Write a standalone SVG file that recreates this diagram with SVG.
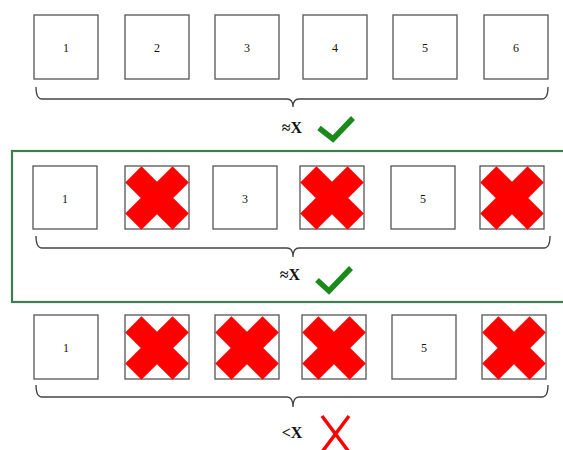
<svg xmlns="http://www.w3.org/2000/svg" width="563" height="450" viewBox="0 0 563 450">
<defs>
<style>
.box{fill:#fff;stroke:#555;stroke-width:1.3}
.num{font-family:"Liberation Serif",serif;font-size:12px;fill:#111;text-anchor:middle}
.lbl{font-family:"Liberation Serif",serif;font-size:16px;font-weight:bold;fill:#111;text-anchor:middle}
.brace{fill:none;stroke:#444;stroke-width:1.3}
.chk{fill:none;stroke:#1a8a1a;stroke-width:5.5;stroke-linecap:butt;stroke-linejoin:miter}
.frame{fill:none;stroke:#3f7f4f;stroke-width:2.2}
.cross{fill:#ff0000}
</style>
<g id="bigx">
<rect x="-33.5" y="-11.5" width="67" height="23" transform="rotate(45)"/>
<rect x="-33.5" y="-11.5" width="67" height="23" transform="rotate(-45)"/>
</g>
</defs>
<rect width="563" height="450" fill="#fff"/>
<g id="frame"><rect class="frame" x="12" y="151" width="560" height="151"/></g>
<g id="row1">
<g id="r1n1"><rect class="box" x="34" y="15" width="64" height="64"/><text class="num" x="66" y="52">1</text></g>
<g id="r1n2"><rect class="box" x="125" y="15" width="64" height="64"/><text class="num" x="157" y="52">2</text></g>
<g id="r1n3"><rect class="box" x="215" y="15" width="64" height="64"/><text class="num" x="247" y="52">3</text></g>
<g id="r1n4"><rect class="box" x="303" y="15" width="64" height="64"/><text class="num" x="335" y="52">4</text></g>
<g id="r1n5"><rect class="box" x="393" y="15" width="64" height="64"/><text class="num" x="425" y="52">5</text></g>
<g id="r1n6"><rect class="box" x="484" y="15" width="64" height="64"/><text class="num" x="516" y="52">6</text></g>
</g>
<g id="row2">
<g id="r2n1"><rect class="box" x="33" y="166" width="64" height="63"/><text class="num" x="65" y="203">1</text></g>
<g id="r2n2"><rect class="box" x="125" y="166" width="64" height="63"/><use href="#bigx" class="cross" x="157" y="198"/></g>
<g id="r2n3"><rect class="box" x="213" y="166" width="64" height="63"/><text class="num" x="245" y="203">3</text></g>
<g id="r2n4"><rect class="box" x="300" y="166" width="64" height="63"/><use href="#bigx" class="cross" x="332" y="198"/></g>
<g id="r2n5"><rect class="box" x="391" y="166" width="64" height="63"/><text class="num" x="423" y="203">5</text></g>
<g id="r2n6"><rect class="box" x="480" y="166" width="64" height="63"/><use href="#bigx" class="cross" x="512" y="198"/></g>
</g>
<g id="row3">
<g id="r3n1"><rect class="box" x="34" y="315" width="64" height="64"/><text class="num" x="66" y="352">1</text></g>
<g id="r3n2"><rect class="box" x="125" y="315" width="64" height="64"/><use href="#bigx" class="cross" x="157" y="348"/></g>
<g id="r3n3"><rect class="box" x="215" y="315" width="64" height="64"/><use href="#bigx" class="cross" x="247" y="348"/></g>
<g id="r3n4"><rect class="box" x="302" y="315" width="64" height="64"/><use href="#bigx" class="cross" x="334" y="348"/></g>
<g id="r3n5"><rect class="box" x="392" y="315" width="64" height="64"/><text class="num" x="424" y="352">5</text></g>
<g id="r3n6"><rect class="box" x="482" y="315" width="64" height="64"/><use href="#bigx" class="cross" x="514" y="348"/></g>
</g>
<g id="connectors">
<path class="brace" d="M36,87 Q36,99 42,99 L287,99 Q293,99 293,107 Q293,99 299,99 L542,99 Q548,99 548,87"/>
<path class="brace" d="M36,236 Q36,248 42,248 L287,248 Q293,248 293,257 Q293,248 299,248 L544,248 Q550,248 550,236"/>
<path class="brace" d="M36,385 Q36,397 42,397 L287,397 Q293,397 293,407 Q293,397 299,397 L542,397 Q548,397 548,385"/>
</g>
<g id="labels">
<text class="lbl" x="292" y="133">≈X</text>
<polyline class="chk" points="319,128 333,139 353,118"/>
<text class="lbl" x="290" y="280">≈X</text>
<polyline class="chk" points="317,280 329,291 351,268"/>
<text class="lbl" x="292" y="438">&lt;X</text>
<path d="M322,416 L349,452 M349,416 L322,452" stroke="#ff0000" stroke-width="3.5" fill="none"/>
</g>
</svg>
